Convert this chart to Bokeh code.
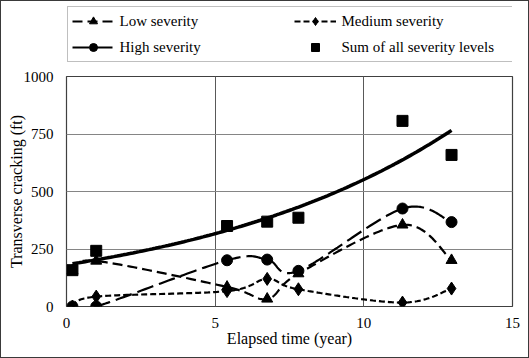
import numpy as np
from bokeh.plotting import figure
from bokeh.layouts import column
from bokeh.models import Legend, LegendItem, SingleIntervalTicker, Range1d, Grid
from bokeh.embed import file_html
from bokeh.resources import INLINE

# ---- data ----
years = [0.2, 1.0, 5.4, 6.75, 7.8, 11.3, 12.95]
low = [157, 198, 85, 33, 143, 355, 201]
medium = [0, 43, 67, 120, 75, 17, 78]
high = [0, 0, 201, 204, 155, 426, 367]
total = [158, 242, 350, 369, 386, 807, 659]

x_tick_step = 5
y_tick_step = 250
FONT = "Liberation Serif"


def smooth(xs, ys, n=40):
    """Excel-style smoothed line (Catmull-Rom Bezier) through the data points."""
    xs = np.asarray(xs, float)
    ys = np.asarray(ys, float)
    P = np.column_stack([xs, ys])
    P = np.vstack([P[0], P, P[-1]])
    out = []
    m = len(xs) - 1
    for i in range(m):
        p0, p1, p2, p3 = P[i], P[i + 1], P[i + 2], P[i + 3]
        c1 = p1 + (p2 - p0) / 6.0
        c2 = p2 - (p3 - p1) / 6.0
        t = np.linspace(0, 1, n, endpoint=(i == m - 1))[:, None]
        seg = ((1 - t) ** 3) * p1 + 3 * ((1 - t) ** 2) * t * c1 + 3 * (1 - t) * t ** 2 * c2 + t ** 3 * p2
        out.append(seg)
    out = np.vstack(out)
    return out[:, 0], out[:, 1]


lx, ly = smooth(years, low)
mx, my = smooth(years, medium)
hx, hy = smooth(years, high)


def add_series(fig):
    r = {}
    r["low_line"] = fig.line(lx, ly, line_color="black", line_width=2.2, line_dash="10 5")
    r["med_line"] = fig.line(mx, my, line_color="black", line_width=2.2, line_dash="6 3")
    r["high_line"] = fig.line(hx, hy, line_color="black", line_width=2.2, line_dash="17 6")
    r["low_pts"] = fig.scatter(years, low, marker="triangle", size=11, color="black")
    r["med_pts"] = fig.scatter(years, medium, marker="diamond", size=13, color="black")
    r["high_pts"] = fig.scatter(years, high, marker="circle", size=11, color="black")
    r["sum_pts"] = fig.scatter(years, total, marker="square", size=11, color="black")
    return r


W = 529

# ---------------- main chart ----------------
p = figure(width=W, height=290,
           x_range=Range1d(0, 15), y_range=Range1d(0, 1000),
           output_backend="svg", toolbar_location=None,
           min_border_left=66, min_border_right=17,
           min_border_top=8, min_border_bottom=52)

p.background_fill_color = "white"
p.border_fill_color = "white"
p.outline_line_color = "#404040"
p.outline_line_width = 1.2

xt = SingleIntervalTicker(interval=x_tick_step, num_minor_ticks=5)
yt = SingleIntervalTicker(interval=y_tick_step, num_minor_ticks=5)
p.xaxis.ticker = xt
p.yaxis.ticker = yt
for ax in (p.xaxis[0], p.yaxis[0]):
    ax.axis_line_color = None
    ax.major_tick_in = 0
    ax.major_tick_out = 0
    ax.minor_tick_in = 0
    ax.minor_tick_out = 0
    ax.major_label_text_font = FONT
    ax.major_label_text_font_size = "15px"
    ax.major_label_text_color = "black"
    ax.axis_label_text_font = FONT
    ax.axis_label_text_font_size = "16px"
    ax.axis_label_text_font_style = "normal"
    ax.axis_label_text_color = "black"
p.xaxis.major_label_standoff = 11
p.xaxis.axis_label_standoff = -1
p.yaxis.major_label_standoff = 13
p.yaxis.axis_label_standoff = -4

p.xaxis.axis_label = "Elapsed time (year)"
p.yaxis.axis_label = "Transverse cracking (ft)"

# light minor grids first, then the major grid lines over them
minor_x = Grid(dimension=0, ticker=xt, grid_line_color=None, minor_grid_line_color="#ececec")
minor_y = Grid(dimension=1, ticker=yt, grid_line_color=None, minor_grid_line_color="#ececec")
p.center = [minor_x, minor_y] + list(p.center)
p.xgrid.grid_line_color = "#595959"
p.xgrid.grid_line_width = 1
p.xgrid.minor_grid_line_color = None
p.ygrid.grid_line_color = "#858585"
p.ygrid.grid_line_width = 1
p.ygrid.minor_grid_line_color = None

# trend line (exponential fit to the total)
coef = np.polyfit(np.asarray(years), np.log(np.asarray(total, float)), 1)
tx = np.linspace(years[0], years[-1], 120)
ty = np.exp(coef[1]) * np.exp(coef[0] * tx)
p.line(tx, ty, line_color="black", line_width=3.5)

add_series(p)

# ---------------- legend strip (same series, view window kept off the data) ----------------
pl = figure(width=W, height=68,
            x_range=Range1d(0, 15), y_range=Range1d(5000, 6000),
            output_backend="svg", toolbar_location=None,
            x_axis_location=None, y_axis_location=None,
            min_border_left=66, min_border_right=17,
            min_border_top=0, min_border_bottom=0)
pl.grid.visible = False
pl.outline_line_color = None
pl.background_fill_color = "white"
pl.border_fill_color = "white"
lr = add_series(pl)

legend = Legend(items=[
    LegendItem(label="Low severity", renderers=[lr["low_line"], lr["low_pts"]]),
    LegendItem(label="High severity", renderers=[lr["high_line"], lr["high_pts"]]),
    LegendItem(label="Medium severity", renderers=[lr["med_line"], lr["med_pts"]]),
    LegendItem(label="Sum of all severity levels", renderers=[lr["sum_pts"]]),
], ncols=2, location=(0.5, 6))
legend.label_text_font = FONT
legend.label_text_font_size = "15px"
legend.label_text_color = "black"
legend.border_line_color = "#808080"
legend.border_line_width = 1
legend.padding = 4
legend.spacing = 6
legend.margin = 0
legend.glyph_width = 42
legend.glyph_height = 20
legend.label_standoff = 6
legend.label_width = 168
legend.background_fill_color = "white"
legend.background_fill_alpha = 1
pl.add_layout(legend, "center")

frame_css = (":host::after { content: ''; position: absolute; left: 0; top: 0; right: 0; bottom: 0; "
             "border: 1px solid #3a3a3a; pointer-events: none; z-index: 100; }")
layout = column(pl, p, spacing=0, stylesheets=[frame_css])
open("out.html", "w").write(file_html(layout, INLINE))
